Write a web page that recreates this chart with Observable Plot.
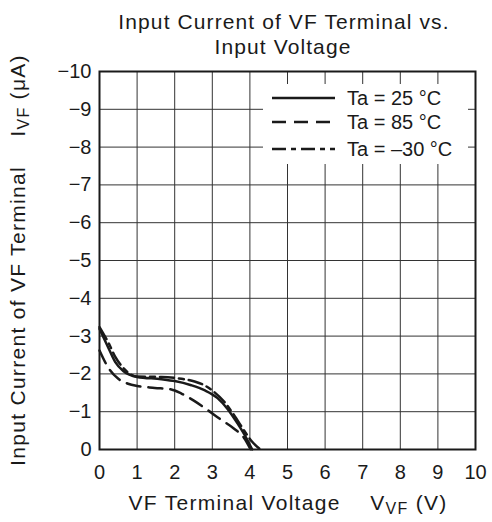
<!DOCTYPE html>
<html>
<head>
<meta charset="utf-8">
<script src="https://cdn.jsdelivr.net/npm/d3@7"></script>
<script src="https://cdn.jsdelivr.net/npm/@observablehq/plot@0.6"></script>
<style>
  html, body { margin: 0; padding: 0; background: #fff; }
</style>
</head>
<body>
<div id="chart"></div>
<script>
// ---- data ----
const seriesNames = ["Ta = 25 °C", "Ta = 85 °C", "Ta = –30 °C"];

const v25 = [0, 0.25, 0.42, 0.64, 1.0, 1.65, 2.0, 2.44, 2.79, 3.14, 3.4, 3.67, 3.89, 4.06];
const i25 = [-3.19, -2.66, -2.31, -2.07, -1.92, -1.86, -1.81, -1.70, -1.57, -1.36, -1.08, -0.69, -0.33, 0];

const v85 = [0, 0.25, 0.5, 0.76, 1.0, 1.47, 1.91, 2.18, 2.53, 2.88, 3.23, 3.58, 3.84, 4.02];
const i85 = [-2.62, -2.14, -1.87, -1.74, -1.68, -1.63, -1.59, -1.48, -1.28, -1.04, -0.79, -0.55, -0.31, 0];

const vM30 = [0, 0.25, 0.42, 0.64, 1.0, 1.65, 2.18, 2.53, 2.79, 3.05, 3.32, 3.58, 3.84, 4.02, 4.28];
const iM30 = [-3.24, -2.80, -2.45, -2.15, -1.93, -1.92, -1.87, -1.80, -1.70, -1.52, -1.26, -0.91, -0.51, -0.25, 0];

const xTicks = [0, 1, 2, 3, 4, 5, 6, 7, 8, 9, 10];
const yTicks = [0, -1, -2, -3, -4, -5, -6, -7, -8, -9, -10];

const dashes = [null, "14,8", "14,5,5,5"];

const rows = (vs, is, s) => vs.map((v, k) => ({v, i: is[k], s}));
const data25 = rows(v25, i25, seriesNames[0]);
const data85 = rows(v85, i85, seriesNames[1]);
const dataM30 = rows(vM30, iM30, seriesNames[2]);

const ink = "#1a1a1a";
const FONT = "'Liberation Sans', Arial, Helvetica, sans-serif";

const fmt = d => d < 0 ? "\u2212" + (-d) : String(d);

const chart = Plot.plot({
  width: 492,
  height: 522,
  marginLeft: 99,
  marginRight: 17,
  marginTop: 71,
  marginBottom: 73,
  style: {fontFamily: FONT, fontSize: "20px", color: ink, background: "#fff", overflow: "visible"},
  x: {domain: [0, 10], ticks: xTicks, tickSize: 0, tickPadding: 15, label: null, tickFormat: fmt},
  y: {domain: [0, -10], ticks: yTicks, tickSize: 0, tickPadding: 8, label: null, tickFormat: fmt},
  marks: [
    Plot.gridX(xTicks, {stroke: "#333", strokeOpacity: 1, strokeWidth: 1}),
    Plot.gridY(yTicks, {stroke: "#333", strokeOpacity: 1, strokeWidth: 1}),
    Plot.line(data25, {x: "v", y: "i", stroke: ink, strokeWidth: 2.5, curve: "monotone-x"}),
    Plot.line(data85, {x: "v", y: "i", stroke: ink, strokeWidth: 2.5, curve: "monotone-x", strokeDasharray: dashes[1]}),
    Plot.line(dataM30, {x: "v", y: "i", stroke: ink, strokeWidth: 2.5, curve: "monotone-x", strokeDasharray: dashes[2]}),
    Plot.frame({stroke: ink, strokeWidth: 2})
  ]
});

document.getElementById("chart").appendChild(chart);

const svg = d3.select(chart);

// title
const title = svg.append("text")
  .attr("text-anchor", "middle")
  .attr("font-family", FONT)
  .attr("font-size", 21)
  .attr("letter-spacing", "1.1px")
  .attr("fill", ink);
title.append("tspan").attr("x", 284).attr("y", 29).text("Input Current of VF Terminal vs.");
title.append("tspan").attr("x", 283).attr("y", 54).text("Input Voltage");

// x label
const xl = svg.append("text")
  .attr("x", 288).attr("y", 510)
  .attr("text-anchor", "middle")
  .attr("font-family", FONT)
  .attr("font-size", 21)
  .attr("letter-spacing", "1.3px")
  .attr("fill", ink);
xl.append("tspan").text("VF Terminal Voltage\u2003 V");
xl.append("tspan").attr("font-size", 16).attr("dy", 4).text("VF");
xl.append("tspan").attr("dy", -4).text(" (V)");

// y label
const yl = svg.append("text")
  .attr("transform", "translate(25,260) rotate(-90)")
  .attr("text-anchor", "middle")
  .attr("font-family", FONT)
  .attr("font-size", 21)
  .attr("letter-spacing", "1.3px")
  .attr("fill", ink);
yl.append("tspan").text("Input Current of VF Terminal\u2003 I");
yl.append("tspan").attr("font-size", 16).attr("dy", 4).text("VF");
yl.append("tspan").attr("dy", -4).text(" (\u03BCA)");

// legend
const lg = svg.append("g");
lg.append("rect").attr("x", 263).attr("y", 84).attr("width", 205).attr("height", 80).attr("fill", "#fff");
const ly = [98, 122, 149];
seriesNames.forEach((name, k) => {
  lg.append("line")
    .attr("x1", 272).attr("x2", 335).attr("y1", ly[k]).attr("y2", ly[k])
    .attr("stroke", ink).attr("stroke-width", 2.5)
    .attr("stroke-dasharray", dashes[k]);
  lg.append("text")
    .attr("x", 347).attr("y", ly[k] + 7)
    .attr("text-anchor", "start")
    .attr("font-family", FONT).attr("font-size", 20).attr("fill", ink)
    .text(name);
});
</script>
</body>
</html>
